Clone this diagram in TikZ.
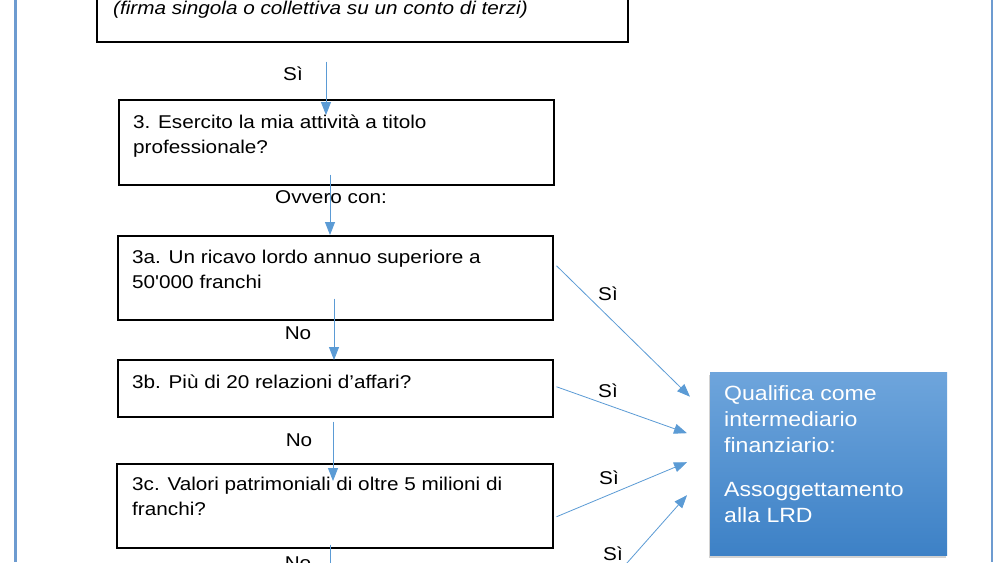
\documentclass[tikz,border=0pt]{standalone}
\usepackage{fontspec}
\setmainfont[FakeStretch=1.12,Ligatures=TeXOff]{Liberation Sans}
\usetikzlibrary{arrows.meta,shadows,calc}
\definecolor{arrblue}{HTML}{5B9BD5}
\definecolor{frameblue}{HTML}{6D9BD0}
\definecolor{boxtop}{HTML}{6EA5DC}
\definecolor{boxbot}{HTML}{3D81C6}
\newcommand{\fstrut}{\rule{0pt}{15pt}}
\newcommand{\bstrut}{\rule{0pt}{17pt}}
\begin{document}
\begin{tikzpicture}[x=1pt,y=-1pt,
  qbox/.style={draw=black, line width=1.5pt, inner sep=0, anchor=north west},
  qtext/.style={anchor=north west, inner sep=0, align=left, font=\fontsize{18.5}{25}\selectfont},
  lbl/.style={anchor=base, inner sep=0, font=\fontsize{18.5}{25}\selectfont},
  arr/.style={draw=arrblue, line width=0.8pt, -{Triangle[length=13pt,width=10pt]}},
  resbox/.style={anchor=north west, inner sep=0, top color=boxtop, bottom color=boxbot, draw=none,
    drop shadow={opacity=0.35, shadow xshift=-1pt, shadow yshift=-2.5pt}},
  restext/.style={anchor=north west, inner sep=0, align=left, text=white, font=\fontsize{20.6}{26}\selectfont},
]
\clip (0,0) rectangle (1000,562);
\fill[white] (0,0) rectangle (1000,562);
% frame lines
\draw[frameblue, line width=2.2pt] (15.5,0) -- (15.5,562);
\draw[frameblue, line width=2.2pt] (992.3,0) -- (992.3,562);
% boxes
\node[qbox, minimum width=531pt, minimum height=61pt] (q2) at (96,-20) {};
\node[qbox, minimum width=435pt, minimum height=85pt] (q3) at (118,99) {};
\node[qbox, minimum width=435pt, minimum height=84pt] (q3a) at (117,235) {};
\node[qbox, minimum width=435pt, minimum height=57pt] (q3b) at (117,359) {};
\node[qbox, minimum width=436pt, minimum height=84pt] (q3c) at (116,463) {};
\node[resbox, minimum width=237pt, minimum height=183pt] (lrd) at (710,372) {};
% texts
\node[qtext, font=\fontsize{18.5}{25}\selectfont\itshape] (t2) at (113,-1) {\fstrut(firma singola o collettiva su un conto di terzi)};
\node[qtext] (t3) at (133,113) {\fstrut 3. Esercito la mia attività a titolo\\professionale?};
\node[qtext] (t3a) at (132,248) {\fstrut 3a. Un ricavo lordo annuo superiore a\\50'000 franchi};
\node[qtext] (t3b) at (132,373) {\fstrut 3b. Più di 20 relazioni d’affari?};
\node[qtext] (t3c) at (132,475) {\fstrut 3c. Valori patrimoniali di oltre 5 milioni di\\franchi?};
\node[restext] (tr) at (724,383) {\bstrut Qualifica come\\intermediario\\finanziario:\\[18pt]Assoggettamento\\alla LRD};
% vertical arrows
\draw[arr] ($(q2.south -| 326,0)+(0,19)$) -- ($(q3.north -| 326,0)+(0,16)$);
\draw[arr] ($(q3.south -| 330,0)+(0,-11)$) -- ($(q3a.north -| 330,0)+(0,0)$);
\draw[arr] ($(q3a.south -| 334,0)+(0,-22)$) -- ($(q3b.north -| 334,0)+(0,1)$);
\draw[arr] ($(q3b.south -| 333,0)+(0,4)$) -- ($(q3c.north -| 333,0)+(0,18)$);
\coordinate (below) at (330,600);
\draw[draw=arrblue, line width=0.8pt] ($(q3c.south -| 330,0)+(0,-4)$) -- (below);
% diagonal arrows
\draw[arr] ($(q3a.east)+(3,-12)$) -- ($(lrd.west)+(-20,-67)$);
\draw[arr] ($(q3b.east)+(3,-1.5)$) -- ($(lrd.west)+(-23,-30.5)$);
\draw[arr] ($(q3c.east)+(3,11)$) -- ($(lrd.west)+(-23,-1.5)$);
\coordinate (d4) at (619,572);
\draw[arr] (d4) -- ($(lrd.west)+(-23,31.5)$);
% labels
\node[lbl] (l1) at (293,80) {Sì};
\node[lbl] (l2) at (331,203) {Ovvero con:};
\node[lbl] (l3) at (298,339) {No};
\node[lbl] (l4) at (299,446) {No};
\node[lbl] (l5) at (298,569) {No};
\node[lbl] (s1) at (608,300) {Sì};
\node[lbl] (s2) at (608,397) {Sì};
\node[lbl] (s3) at (609,484) {Sì};
\node[lbl] (s4) at (613,560) {Sì};
\end{tikzpicture}
\end{document}
